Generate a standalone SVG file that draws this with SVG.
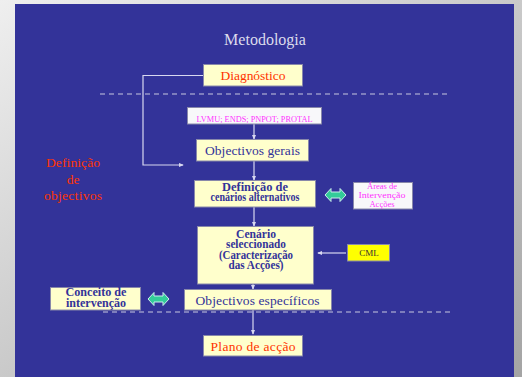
<svg xmlns="http://www.w3.org/2000/svg" width="522" height="377" viewBox="0 0 522 377" font-family="'Liberation Serif', 'DejaVu Serif', 'Times New Roman', serif">
<defs>
<linearGradient id="bg" x1="0" y1="0" x2="1" y2="1">
<stop offset="0" stop-color="#efefef"/>
<stop offset="1" stop-color="#a4a4a4"/>
</linearGradient>
<marker id="ah" viewBox="0 0 6 6" refX="5" refY="3" markerWidth="5" markerHeight="5" orient="auto" markerUnits="userSpaceOnUse">
<path d="M0,0.5 L6,3 L0,5.5 z" fill="#d8d8f0"/>
</marker>
<style>
.box{fill:#ffffcc;stroke:#8888aa;stroke-width:1}
.wbox{fill:#f8f8fa;stroke:#8888aa;stroke-width:1}
.ybox{fill:#ffff00;stroke:#8888aa;stroke-width:1}
.con{stroke:#d8d8f0;stroke-width:1.2;fill:none}
.dash{stroke:#c8c8e0;stroke-width:1.2;stroke-dasharray:5,4;fill:none}
text{font-family:'Liberation Serif','DejaVu Serif','Times New Roman',serif;text-anchor:middle}
.red{fill:#ff3300;font-size:13.5px}
.navy{fill:#333399;font-size:13.5px}
.bold{fill:#333399;font-size:11.5px;font-weight:bold}
.mag{fill:#ff33ff;font-size:8.5px}
.dbl{fill:#33cc99;stroke:#cceeee;stroke-width:1}
</style>
</defs>
<rect x="0" y="0" width="522" height="377" fill="url(#bg)"/>
<rect x="15" y="4" width="499" height="373" fill="#333399"/>
<text x="265" y="45" font-family="Liberation Serif, serif" style="fill:#dcdcec;font-size:16px">Metodologia</text>

<g id="connectors">
<polyline class="con" points="203,75.5 143,75.5 143,165 183,165" marker-end="url(#ah)"/>
<line class="con" x1="254" y1="124" x2="254" y2="139" marker-end="url(#ah)"/>
<line class="con" x1="254" y1="161" x2="254" y2="180" marker-end="url(#ah)"/>
<line class="con" x1="254" y1="207" x2="254" y2="226" marker-end="url(#ah)"/>
<line class="con" x1="253" y1="284" x2="253" y2="289" marker-end="url(#ah)"/>
<line class="con" x1="253" y1="310" x2="253" y2="334" marker-end="url(#ah)"/>
<line class="con" x1="346" y1="253" x2="318" y2="253" marker-end="url(#ah)"/>
<line class="dash" x1="100" y1="94" x2="450" y2="94"/>
<line class="dash" x1="103" y1="312" x2="452" y2="312"/>
<path class="dbl" d="M325,195 L331,188.5 L331,192 L340,192 L340,188.5 L346,195 L340,201.5 L340,198 L331,198 L331,201.5 z"/>
<path class="dbl" d="M148,299 L154,292.5 L154,296 L163,296 L163,292.5 L169,299 L163,305.5 L163,302 L154,302 L154,305.5 z"/>
</g>

<g id="diagnostico">
<rect class="box" x="203.5" y="64.5" width="99" height="21.5"/>
<text class="red" x="253" y="80" textLength="65">Diagnóstico</text>
</g>
<g id="definicao-objectivos">
<text class="red" x="73" y="167" textLength="54">Definição</text>
<text class="red" x="73" y="184">de</text>
<text class="red" x="73" y="200" textLength="58">objectivos</text>
</g>
<g id="lvmu">
<rect class="wbox" x="187.5" y="107.5" width="134" height="16.5"/>
<text x="254.5" y="122" style="fill:#ff33ff;font-size:8.5px" textLength="116" lengthAdjust="spacingAndGlyphs">LVMU; ENDS; PNPOT; PROTAL</text>
</g>
<g id="objectivos-gerais">
<rect class="box" x="196.5" y="139.5" width="112" height="21.5"/>
<text class="navy" x="252.5" y="155" textLength="95">Objectivos gerais</text>
</g>
<g id="cenarios-alternativos">
<rect class="box" x="194.5" y="180.5" width="121" height="26.5"/>
<text class="bold" x="255" y="190.5" textLength="66" lengthAdjust="spacingAndGlyphs">Definição de</text>
<text class="bold" x="255" y="201" textLength="89" lengthAdjust="spacingAndGlyphs">cenários alternativos</text>
</g>
<g id="areas">
<rect class="wbox" x="353.5" y="182.5" width="59" height="26.5"/>
<text class="mag" x="382" y="188.5" textLength="30" lengthAdjust="spacingAndGlyphs">Áreas de</text>
<text class="mag" x="382" y="197.5" textLength="47" lengthAdjust="spacingAndGlyphs">Intervenção</text>
<text class="mag" x="382" y="206.5">Acções</text>
</g>
<g id="cenario-seleccionado">
<rect class="box" x="197.5" y="226.5" width="116" height="57.5"/>
<text class="bold" x="256" y="237.5" textLength="40" lengthAdjust="spacingAndGlyphs">Cenário</text>
<text class="bold" x="256" y="248" textLength="60" lengthAdjust="spacingAndGlyphs">seleccionado</text>
<text class="bold" x="256" y="258.5" textLength="74" lengthAdjust="spacingAndGlyphs">(Caracterização</text>
<text class="bold" x="256" y="269" textLength="55" lengthAdjust="spacingAndGlyphs">das Acções)</text>
</g>
<g id="cml">
<rect class="ybox" x="347.5" y="244.5" width="42" height="16.5"/>
<text x="369" y="256" style="fill:#333333;font-size:9px">CML</text>
</g>
<g id="conceito">
<rect class="box" x="50.5" y="287.5" width="90" height="22.5"/>
<text class="bold" x="96" y="295.5" textLength="61" lengthAdjust="spacingAndGlyphs">Conceito de</text>
<text class="bold" x="96" y="307" textLength="60" lengthAdjust="spacingAndGlyphs">intervenção</text>
</g>
<g id="objectivos-especificos">
<rect class="box" x="184.5" y="289.5" width="147" height="20.5"/>
<text class="navy" x="257.5" y="305" textLength="124">Objectivos específicos</text>
</g>
<g id="plano">
<rect class="box" x="203.5" y="335.5" width="99" height="20.5"/>
<text class="red" x="253" y="351" textLength="85">Plano de acção</text>
</g>
</svg>
